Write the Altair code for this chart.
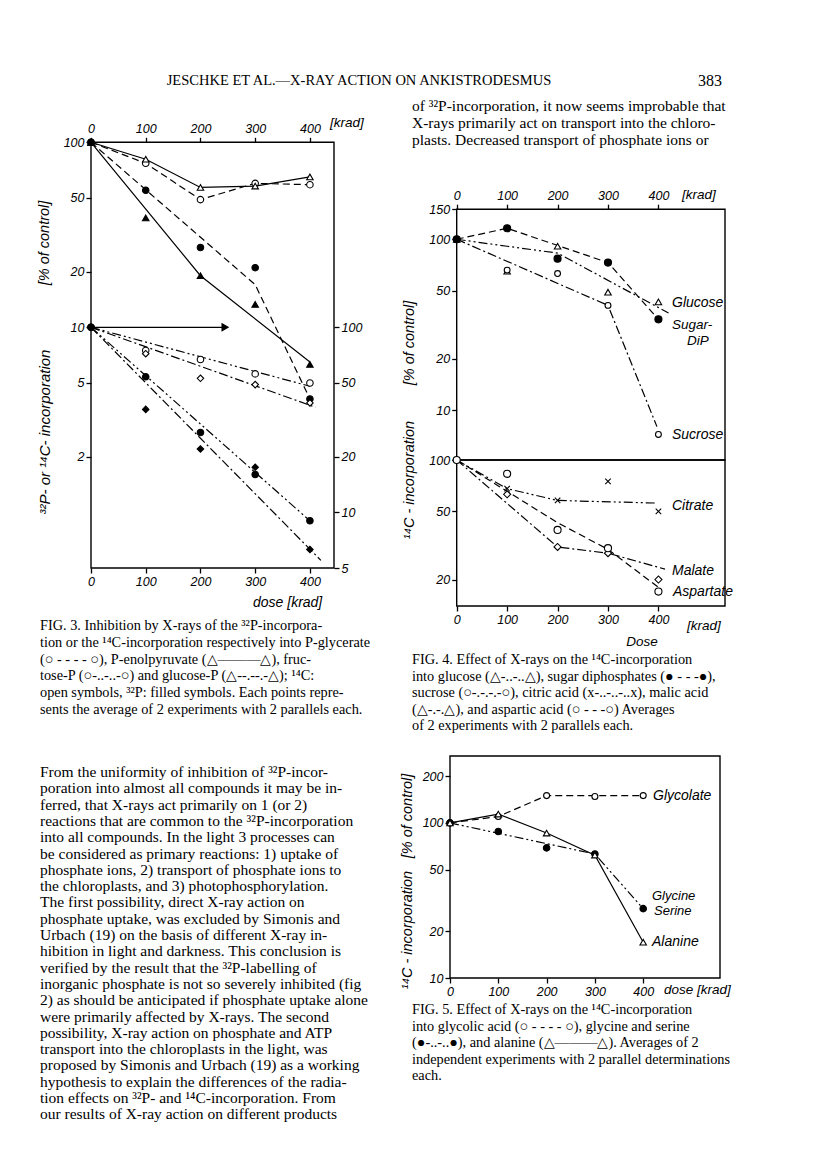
import altair as alt
import pandas as pd

W, H = 800, 1136


def cx(x):
    return x - 8


def cy(y):
    return y - 8


# ---------------- data ----------------
dose = [0, 100, 200, 300, 400]
dose_ticks = [0, 100, 200, 300, 400]

# Fig. 3, upper group (left axis, % of control)
f3_pgly_c14 = [100, 77, 49, 60, 59]          # open circle, dashed
f3_pep_c14 = [100, 81, 57, 58, 65]           # open triangle, solid
f3_pgly_p32 = [100, 55, 27, 21, 4.1]         # filled circle, dashed
f3_pep_p32 = [100, 39, 19, 13.3, 6.3]        # filled triangle, solid
f3_pgly_p32_line_d = [0, 300, 400]
f3_pgly_p32_line_v = [100, 17, 4.1]
f3_pep_p32_line_d = [0, 200, 400]
f3_pep_p32_line_v = [100, 19, 6.5]
f3_arrow_d = [0, 245]
f3_arrow_v = [10, 10]
# Fig. 3, lower group (right axis, % of control)
f3_fru_c14 = [100, 75, 67, 56, 50]           # open circle, dash-dot-dot
f3_glu_c14 = [100, 72, 53, 49, 39]           # open diamond, dash-dot
f3_fru_p32 = [100, 54, 27, 16, 9]            # filled circle, dash-dot-dot
f3_glu_p32 = [100, 36, 22, 17.5, 6.3]        # filled diamond, dash-dot
f3_fru_c14_line_d = [0, 400]
f3_fru_c14_line_v = [100, 48]
f3_glu_c14_line_d = [0, 410]
f3_glu_c14_line_v = [100, 37]
f3_fru_p32_line_d = [0, 400]
f3_fru_p32_line_v = [100, 9]
f3_glu_p32_line_d = [0, 420]
f3_glu_p32_line_v = [100, 5.5]
f3_left_ticks = [2, 5, 10, 20, 50, 100]
f3_right_ticks = [5, 10, 20, 50, 100]

# Fig. 4, upper panel (sugars)
f4_glucose = [100, 65, 91, 49, 43]
f4_glucose_line_d = [0, 100, 200, 420]
f4_glucose_line_v = [100, 91, 83, 37]
f4_sugardip = [100, 116, 77, 73, 34]
f4_sugardip_line_d = [0, 100, 300, 400]
f4_sugardip_line_v = [100, 116, 73, 34]
f4_sucrose = [100, 66, 63, 41, 7.2]
f4_sucrose_line_d = [0, 300, 397]
f4_sucrose_line_v = [100, 41, 8]
# Fig. 4, lower panel (acids)
f4_citrate = [100, 68, 58, 75, 50]
f4_citrate_line_d = [0, 100, 200, 395]
f4_citrate_line_v = [100, 68, 58, 56]
f4_malate = [100, 63, 31, 28.5, 20]
f4_malate_line_d = [0, 200, 300, 413]
f4_malate_line_v = [100, 31, 28.5, 23]
f4_aspartate = [100, 83, 39, 30.5, 17]
f4_aspartate_line_d = [0, 200, 300, 400]
f4_aspartate_line_v = [100, 43, 30, 18]
f4_upper_ticks = [10, 20, 50, 100, 150]
f4_lower_ticks = [20, 50, 100]

# Fig. 5
f5_glycolate = [100, 110, 150, 148, 150]
f5_glycolate_line_d = [0, 100, 200, 400]
f5_glycolate_line_v = [100, 110, 150, 150]
f5_glyser = [100, 88, 69, 63, 28]
f5_glyser_line_d = [0, 300, 400]
f5_glyser_line_v = [100, 63, 28]
f5_alanine = [100, 114, 86, 62, 17]
f5_ticks = [10, 20, 50, 100, 200]

# ---------------- texts ----------------
header_text = "JESCHKE ET AL.\u2014X-RAY ACTION ON ANKISTRODESMUS"
page_no = "383"
right_top_lines = [
    "of \u00b3\u00b2P-incorporation, it now seems improbable that",
    "X-rays primarily act on transport into the chloro-",
    "plasts.  Decreased transport of phosphate ions or",
]
fig3_caption = [
    "\u00a0\u00a0\u00a0FIG. 3.  Inhibition by X-rays of the \u00b3\u00b2P-incorpora-",
    "tion or the \u00b9\u2074C-incorporation respectively into P-glycerate",
    "(\u25cb - - - - \u25cb), P-enolpyruvate (\u25b3\u2014\u2014\u2014\u25b3), fruc-",
    "tose-P (\u25cb-..-..-\u25cb) and glucose-P (\u25b3--.--.-\u25b3); \u00b9\u2074C:",
    "open symbols, \u00b3\u00b2P: filled symbols.  Each points repre-",
    "sents the average of 2 experiments with 2 parallels each.",
]
fig4_caption = [
    "\u00a0\u00a0\u00a0FIG. 4.  Effect of X-rays on the \u00b9\u2074C-incorporation",
    "into glucose (\u25b3-..-..\u25b3), sugar diphosphates (\u25cf - - -\u25cf),",
    "sucrose (\u25cb-.-.-.-\u25cb), citric acid (x-..-..-..x), malic acid",
    "(\u25b3-.-.\u25b3), and aspartic acid (\u25cb - - -\u25cb)  Averages",
    "of 2 experiments with 2 parallels each.",
]
fig5_caption = [
    "\u00a0\u00a0\u00a0FIG. 5.  Effect of X-rays on the \u00b9\u2074C-incorporation",
    "into glycolic acid (\u25cb - - - - \u25cb), glycine and serine",
    "(\u25cf-..-..\u25cf), and alanine (\u25b3\u2014\u2014\u2014\u25b3).  Averages of 2",
    "independent experiments with 2 parallel determinations",
    "each.",
]
body_left = [
    "\u00a0\u00a0\u00a0From the uniformity of inhibition of \u00b3\u00b2P-incor-",
    "poration into almost all compounds it may be in-",
    "ferred, that X-rays act primarily on 1 (or 2)",
    "reactions that are common to the \u00b3\u00b2P-incorporation",
    "into all compounds.  In the light 3 processes can",
    "be considered as primary reactions: 1) uptake of",
    "phosphate ions, 2) transport of phosphate ions to",
    "the chloroplasts, and 3) photophosphorylation.",
    "\u00a0\u00a0\u00a0The first possibility, direct X-ray action on",
    "phosphate uptake, was excluded by Simonis and",
    "Urbach (19) on the basis of different X-ray in-",
    "hibition in light and darkness.  This conclusion is",
    "verified by the result that the \u00b3\u00b2P-labelling of",
    "inorganic phosphate is not so severely inhibited (fig",
    "2) as should be anticipated if phosphate uptake alone",
    "were primarily affected by X-rays.  The second",
    "possibility, X-ray action on phosphate and ATP",
    "transport into the chloroplasts in the light, was",
    "proposed by Simonis and Urbach (19) as a working",
    "hypothesis to explain the differences of the radia-",
    "tion effects on \u00b3\u00b2P- and \u00b9\u2074C-incorporation.  From",
    "our results of X-ray action on different products",
]

SOLID = None
DASH = [7, 4]
DASHDOT = [9, 3, 2, 3]
DASHDOTDOT = [9, 3, 2, 3, 2, 3]
XSHAPE = "M-1,-1L1,1M-1,1L1,-1"


# ---------------- helpers ----------------
def xenc(domain, x0, x1, orient, pos):
    off = (cy(pos) - H) if orient == "bottom" else -cy(pos)
    return alt.X("dose:Q", title=None,
                 scale=alt.Scale(domain=domain, range=[cx(x0), cx(x1)], nice=False, zero=False),
                 axis=alt.Axis(orient=orient, offset=off, values=dose_ticks, format="d"))


def yenc(domain, ybot, ytop, orient, pos, ticks):
    off = -cx(pos) if orient == "left" else cx(pos) - W
    return alt.Y("val:Q", title=None,
                 scale=alt.Scale(type="log", domain=domain, range=[cy(ybot), cy(ytop)], nice=False),
                 axis=alt.Axis(orient=orient, offset=off, values=ticks, format="d"))


def frame(X, Y, xd, yd):
    df = pd.DataFrame({"dose": [xd[0]], "dose2": [xd[1]], "val": [yd[0]], "val2": [yd[1]]})
    return alt.Chart(df).mark_rect(filled=False, color="black", strokeWidth=1.4).encode(
        x=X, x2="dose2:Q", y=Y, y2="val2:Q")


def line(d, v, X, Y, dash):
    kw = dict(color="black", strokeWidth=1.2)
    if dash:
        kw["strokeDash"] = dash
    return alt.Chart(pd.DataFrame({"dose": d, "val": v})).mark_line(**kw).encode(x=X, y=Y)


def pts(d, v, X, Y, shape, filled, size=42):
    return alt.Chart(pd.DataFrame({"dose": d, "val": v})).mark_point(
        shape=shape, size=size, filled=True, opacity=1, strokeWidth=1.1,
        stroke="black", fill="black" if filled else "white").encode(x=X, y=Y)


one = pd.DataFrame({"k": [0]})


def txt(lines, x, y, size=12.5, font="Liberation Sans", style="italic", align="left",
        angle=None, lh=None, weight="normal"):
    kw = dict(font=font, fontSize=size, fontStyle=style, align=align, baseline="middle",
              color="black", fontWeight=weight)
    if angle is not None:
        kw["angle"] = angle
    if isinstance(lines, list):
        kw["lineHeight"] = lh
    return alt.Chart(one).mark_text(**kw).encode(
        x=alt.value(cx(x)), y=alt.value(cy(y)), text=alt.value(lines))


# ---------------- Fig. 3 ----------------
X3b = xenc([0, 444], 91, 334, "bottom", 568)
X3t = xenc([0, 444], 91, 334, "top", 142.3)
Y3L = yenc([0.5, 100], 568, 142.3, "left", 91, f3_left_ticks)
Y3R = yenc([5, 1000], 568, 142.3, "right", 334, f3_right_ticks)

f3A = alt.layer(
    frame(X3b, Y3L, [0, 444], [0.5, 100]),
    line(dose, f3_pgly_c14, X3b, Y3L, DASH),
    line(dose, f3_pep_c14, X3b, Y3L, SOLID),
    line(f3_pgly_p32_line_d, f3_pgly_p32_line_v, X3b, Y3L, DASH),
    line(f3_pep_p32_line_d, f3_pep_p32_line_v, X3b, Y3L, SOLID),
    line(f3_arrow_d, f3_arrow_v, X3b, Y3L, SOLID),
    pts(f3_arrow_d[1:], f3_arrow_v[1:], X3b, Y3L, "triangle-right", True, 50),
    pts(dose, f3_pgly_c14, X3b, Y3L, "circle", False),
    pts(dose, f3_pep_c14, X3b, Y3L, "triangle-up", False),
    pts(dose, f3_pgly_p32, X3b, Y3L, "circle", True),
    pts(dose, f3_pep_p32, X3b, Y3L, "triangle-up", True),
)
f3C = alt.layer(
    line(f3_fru_c14_line_d, f3_fru_c14_line_v, X3t, Y3R, DASHDOTDOT),
    line(f3_glu_c14_line_d, f3_glu_c14_line_v, X3t, Y3R, DASHDOT),
    line(f3_fru_p32_line_d, f3_fru_p32_line_v, X3t, Y3R, DASHDOTDOT),
    line(f3_glu_p32_line_d, f3_glu_p32_line_v, X3t, Y3R, DASHDOT),
    pts(dose, f3_fru_c14, X3t, Y3R, "circle", False),
    pts(dose, f3_glu_c14, X3t, Y3R, "diamond", False),
    pts(dose, f3_fru_p32, X3t, Y3R, "circle", True),
    pts(dose, f3_glu_p32, X3t, Y3R, "diamond", True),
)
fig3 = alt.layer(f3A, f3C).resolve_scale(y="independent").resolve_axis(x="independent", y="independent")

# ---------------- Fig. 4 ----------------
X4t = xenc([0, 532], 456.7, 725, "top", 209.2)
X4b = xenc([0, 532], 456.7, 725, "bottom", 606)
Y4U = yenc([5.1, 150], 460, 209.2, "left", 456.7, f4_upper_ticks)
Y4L = yenc([14, 100], 606, 460, "left", 456.7, f4_lower_ticks)

f4U = alt.layer(
    frame(X4t, Y4U, [0, 532], [5.1, 150]),
    line(f4_glucose_line_d, f4_glucose_line_v, X4t, Y4U, DASHDOTDOT),
    line(f4_sugardip_line_d, f4_sugardip_line_v, X4t, Y4U, DASH),
    line(f4_sucrose_line_d, f4_sucrose_line_v, X4t, Y4U, DASHDOT),
    pts(dose, f4_glucose, X4t, Y4U, "triangle-up", False),
    pts(dose, f4_sucrose, X4t, Y4U, "circle", False, 34),
    pts(dose, f4_sugardip, X4t, Y4U, "circle", True, 50),
)
f4L = alt.layer(
    frame(X4b, Y4L, [0, 532], [14, 100]),
    line(f4_citrate_line_d, f4_citrate_line_v, X4b, Y4L, DASHDOTDOT),
    line(f4_malate_line_d, f4_malate_line_v, X4b, Y4L, DASHDOT),
    line(f4_aspartate_line_d, f4_aspartate_line_v, X4b, Y4L, DASH),
    pts(dose, f4_citrate, X4b, Y4L, XSHAPE, False, 30),
    pts(dose, f4_malate, X4b, Y4L, "diamond", False, 50),
    pts(dose, f4_aspartate, X4b, Y4L, "circle", False, 50),
)
fig4 = alt.layer(f4U, f4L).resolve_scale(y="independent").resolve_axis(x="independent", y="independent")

# ---------------- Fig. 5 ----------------
X5 = xenc([0, 559], 450, 720, "bottom", 978)
Y5 = yenc([10, 270], 978, 756, "left", 450, f5_ticks)
fig5 = alt.layer(
    frame(X5, Y5, [0, 559], [10, 270]),
    line(f5_glycolate_line_d, f5_glycolate_line_v, X5, Y5, DASH),
    line(f5_glyser_line_d, f5_glyser_line_v, X5, Y5, DASHDOTDOT),
    line(dose, f5_alanine, X5, Y5, SOLID),
    pts(dose, f5_glycolate, X5, Y5, "circle", False, 36),
    pts(dose, f5_glyser, X5, Y5, "circle", True, 42),
    pts(dose, f5_alanine, X5, Y5, "triangle-up", False, 42),
)

# ---------------- text layers ----------------
SERIF = "Liberation Serif"
texts = [
    txt(header_text, 359, 81, size=14.5, font=SERIF, style="normal", align="center"),
    txt(page_no, 722, 81, size=16, font=SERIF, style="normal", align="right"),
    txt(right_top_lines, 412, 106, size=15.5, font=SERIF, style="normal", lh=16.8),
    txt(fig3_caption, 40, 626, size=14.3, font=SERIF, style="normal", lh=16.8),
    txt(fig4_caption, 412, 660, size=14.3, font=SERIF, style="normal", lh=16.6),
    txt(fig5_caption, 412, 1010, size=14.3, font=SERIF, style="normal", lh=16.5),
    txt(body_left, 40, 772, size=15.5, font=SERIF, style="normal", lh=16.3),
    # Fig. 3 labels
    txt("[% of control]", 45, 243, size=14.5, angle=270, align="center"),
    txt("\u00b3\u00b2P- or \u00b9\u2074C- incorporation", 45, 432, size=15, angle=270, align="center"),
    txt("[krad]", 330, 123, size=13.5),
    txt("dose  [krad]", 253, 603, size=14),
    # Fig. 4 labels
    txt("[% of control]", 410, 343, size=14.5, angle=270, align="center"),
    txt("\u00b9\u2074C - incorporation", 410, 480, size=14.5, angle=270, align="center"),
    txt("[krad]", 682, 195, size=13.5),
    txt("[krad]", 687, 626, size=13.5),
    txt("Dose", 642, 642, size=13.5, align="center"),
    txt("Glucose", 672, 303, size=14),
    txt("Sugar-", 672, 325, size=13.5),
    txt("DiP", 687, 341, size=13.5),
    txt("Sucrose", 672, 435, size=14),
    txt("Citrate", 672, 506, size=14),
    txt("Malate", 672, 571, size=14),
    txt("Aspartate", 673, 592, size=14),
    # Fig. 5 labels
    txt("[% of control]", 408, 816, size=14.5, angle=270, align="center"),
    txt("\u00b9\u2074C - incorporation", 408, 930, size=14.5, angle=270, align="center"),
    txt("dose  [krad]", 664, 990, size=13.5),
    txt("Glycolate", 653, 796, size=14),
    txt("Glycine", 652, 896, size=13),
    txt("Serine", 654, 911, size=13),
    txt("Alanine", 652, 942, size=14),
]

chart = alt.layer(fig3, fig4, fig5, *texts).resolve_scale(
    x="independent", y="independent"
).resolve_axis(
    x="independent", y="independent"
).properties(
    width=W, height=H, padding=0, autosize=alt.AutoSizeParams(type="none")
).configure_view(
    stroke=None
).configure_axis(
    labelFont="Liberation Sans", labelFontStyle="italic", labelFontSize=12.5,
    labelColor="black", tickColor="black", tickSize=5, tickWidth=1.3,
    domain=False, grid=False, labelPadding=2, labelFlush=False,
    labelOverlap=False, labelBound=False
)

chart.save("out.html", embed_options={"renderer": "svg", "actions": False})
